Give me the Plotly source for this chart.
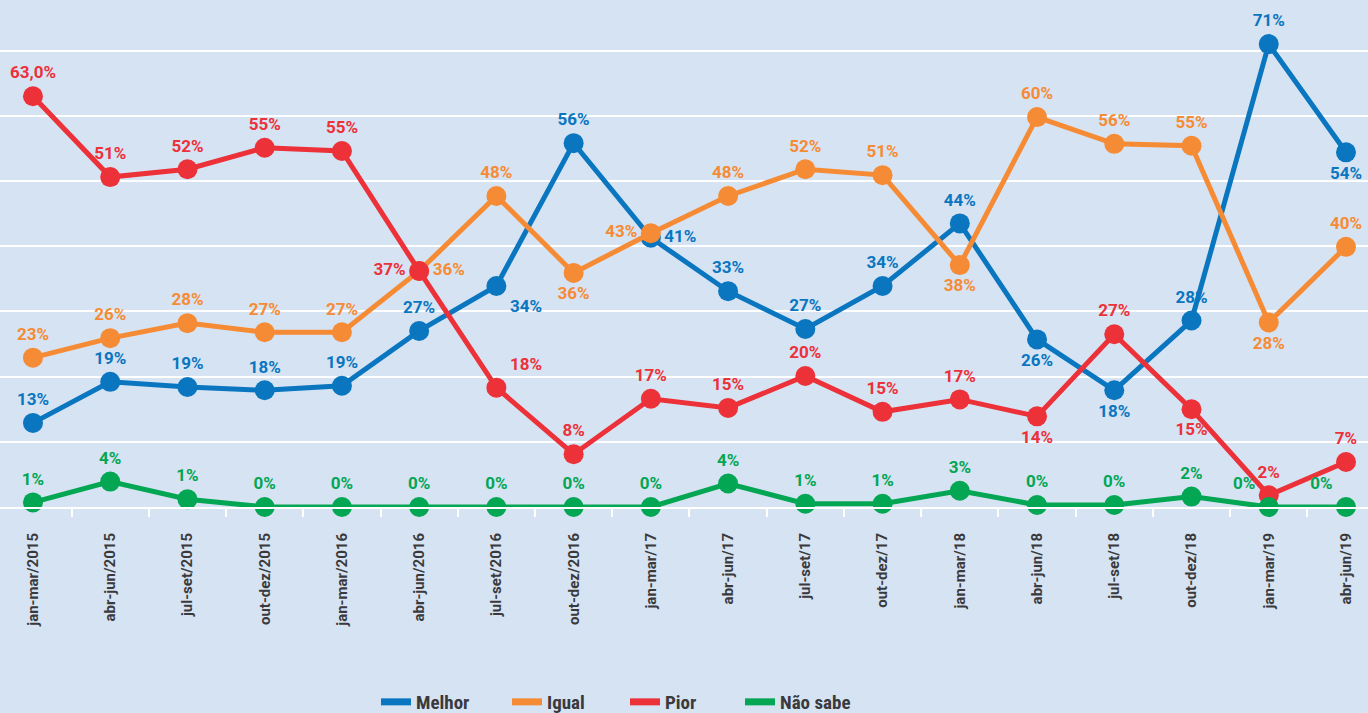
import plotly.graph_objects as go

categories = ["jan-mar/2015", "abr-jun/2015", "jul-set/2015", "out-dez/2015", "jan-mar/2016",
              "abr-jun/2016", "jul-set/2016", "out-dez/2016", "jan-mar/17", "abr-jun/17",
              "jul-set/17", "out-dez/17", "jan-mar/18", "abr-jun/18", "jul-set/18",
              "out-dez/18", "jan-mar/19", "abr-jun/19"]

# values as plotted
melhor = [12.9, 19.2, 18.4, 17.9, 18.6, 27.0, 33.9, 55.8, 41.3, 33.1, 27.3, 33.9, 43.5, 25.7, 17.9, 28.6, 71.0, 54.4]
igual = [22.9, 25.9, 28.2, 26.8, 26.8, 36.2, 47.7, 35.9, 42.0, 47.7, 51.8, 50.9, 37.1, 59.8, 55.7, 55.4, 28.3, 39.9]
pior = [63.0, 50.6, 51.8, 55.1, 54.6, 36.2, 18.3, 8.1, 16.6, 15.2, 20.1, 14.6, 16.5, 13.9, 26.5, 15.0, 1.8, 6.9]
nao_sabe = [0.7, 3.9, 1.2, 0.0, 0.0, 0.0, 0.0, 0.0, 0.0, 3.6, 0.5, 0.5, 2.5, 0.3, 0.3, 1.6, 0.0, 0.0]

# printed data labels
melhor_labels = ["13%", "19%", "19%", "18%", "19%", "27%", "34%", "56%", "41%", "33%", "27%", "34%",
                 "44%", "26%", "18%", "28%", "71%", "54%"]
igual_labels = ["23%", "26%", "28%", "27%", "27%", "36%", "48%", "36%", "43%", "48%", "52%", "51%",
                "38%", "60%", "56%", "55%", "28%", "40%"]
pior_labels = ["63,0%", "51%", "52%", "55%", "55%", "37%", "18%", "8%", "17%", "15%", "20%", "15%",
               "17%", "14%", "27%", "15%", "2%", "7%"]
nao_sabe_labels = ["1%", "4%", "1%", "0%", "0%", "0%", "0%", "0%", "0%", "4%", "1%", "1%",
                   "3%", "0%", "0%", "2%", "0%", "0%"]

BLUE = "#0a76bf"
ORANGE = "#f68b35"
RED = "#ec3139"
GREEN = "#03a653"
BG = "#d6e3f3"
DARK = "#3a3a3c"

def positions(n, overrides):
    p = ["top center"] * n
    for i, v in overrides.items():
        p[i] = v
    return p

n = len(categories)
series = [
    ("Melhor", melhor, BLUE, melhor_labels,
     positions(n, {6: "bottom right", 8: "middle right", 13: "bottom center",
                   14: "bottom center", 17: "bottom center"})),
    ("Igual", igual, ORANGE, igual_labels,
     positions(n, {5: "middle right", 7: "bottom center", 8: "middle left",
                   12: "bottom center", 16: "bottom center"})),
    ("Pior", pior, RED, pior_labels,
     positions(n, {5: "middle left", 6: "top right", 13: "bottom center",
                   15: "bottom center"})),
    ("Não sabe", nao_sabe, GREEN, nao_sabe_labels,
     positions(n, {16: "top left", 17: "top left"})),
]

LABEL_FONT = "Roboto, sans-serif"
COND_FONT = "Roboto Condensed, DejaVu Sans Condensed, Liberation Sans Narrow, Roboto, sans-serif"

fig = go.Figure()
for name, vals, color, txt, pos in series:
    fig.add_trace(go.Scatter(
        x=categories, y=vals, mode="lines+markers+text", name=name,
        line=dict(color=color, width=5),
        marker=dict(color=color, size=20),
        text=txt, textposition=pos,
        textfont=dict(color=color, size=17, family=LABEL_FONT, weight="bold"),
        cliponaxis=False, showlegend=False, hoverinfo="skip",
    ))

legend_x_px = [376, 507, 625, 740]
legend_names = ["legend", "legend2", "legend3", "legend4"]
for (name, vals, color, txt, pos), lg in zip(series, legend_names):
    fig.add_trace(go.Scatter(
        x=[None], y=[None], mode="lines", name=name,
        line=dict(color=color, width=7), showlegend=True, legend=lg,
    ))

legend_common = dict(orientation="h", xanchor="left", y=-0.3846, yanchor="middle",
                     font=dict(color=DARK, size=19, family=COND_FONT, weight="bold"),
                     bgcolor="rgba(0,0,0,0)")
layout_legends = {lg: dict(x=px / 1368, **legend_common) for lg, px in zip(legend_names, legend_x_px)}

fig.update_layout(
    width=1368, height=713,
    paper_bgcolor=BG, plot_bgcolor=BG,
    margin=dict(l=0, r=0, t=0, b=206, autoexpand=False),
    showlegend=True,
    xaxis=dict(
        type="category", range=[-0.427, 17.285],
        showgrid=False, showline=True, linecolor="white", linewidth=2,
        ticks="outside", tickson="boundaries", tickcolor="white", ticklen=8, tickwidth=2,
        tickangle=-90, ticklabelstandoff=18,
        tickfont=dict(color=DARK, size=15, family=LABEL_FONT, weight="bold"),
        zeroline=False, fixedrange=True,
    ),
    yaxis=dict(
        range=[0, 77.76], dtick=10, showgrid=True, gridcolor="white", gridwidth=2,
        showticklabels=False, zeroline=False, showline=False, ticks="", fixedrange=True,
    ),
    **layout_legends,
)

fig.write_html("out.html")
